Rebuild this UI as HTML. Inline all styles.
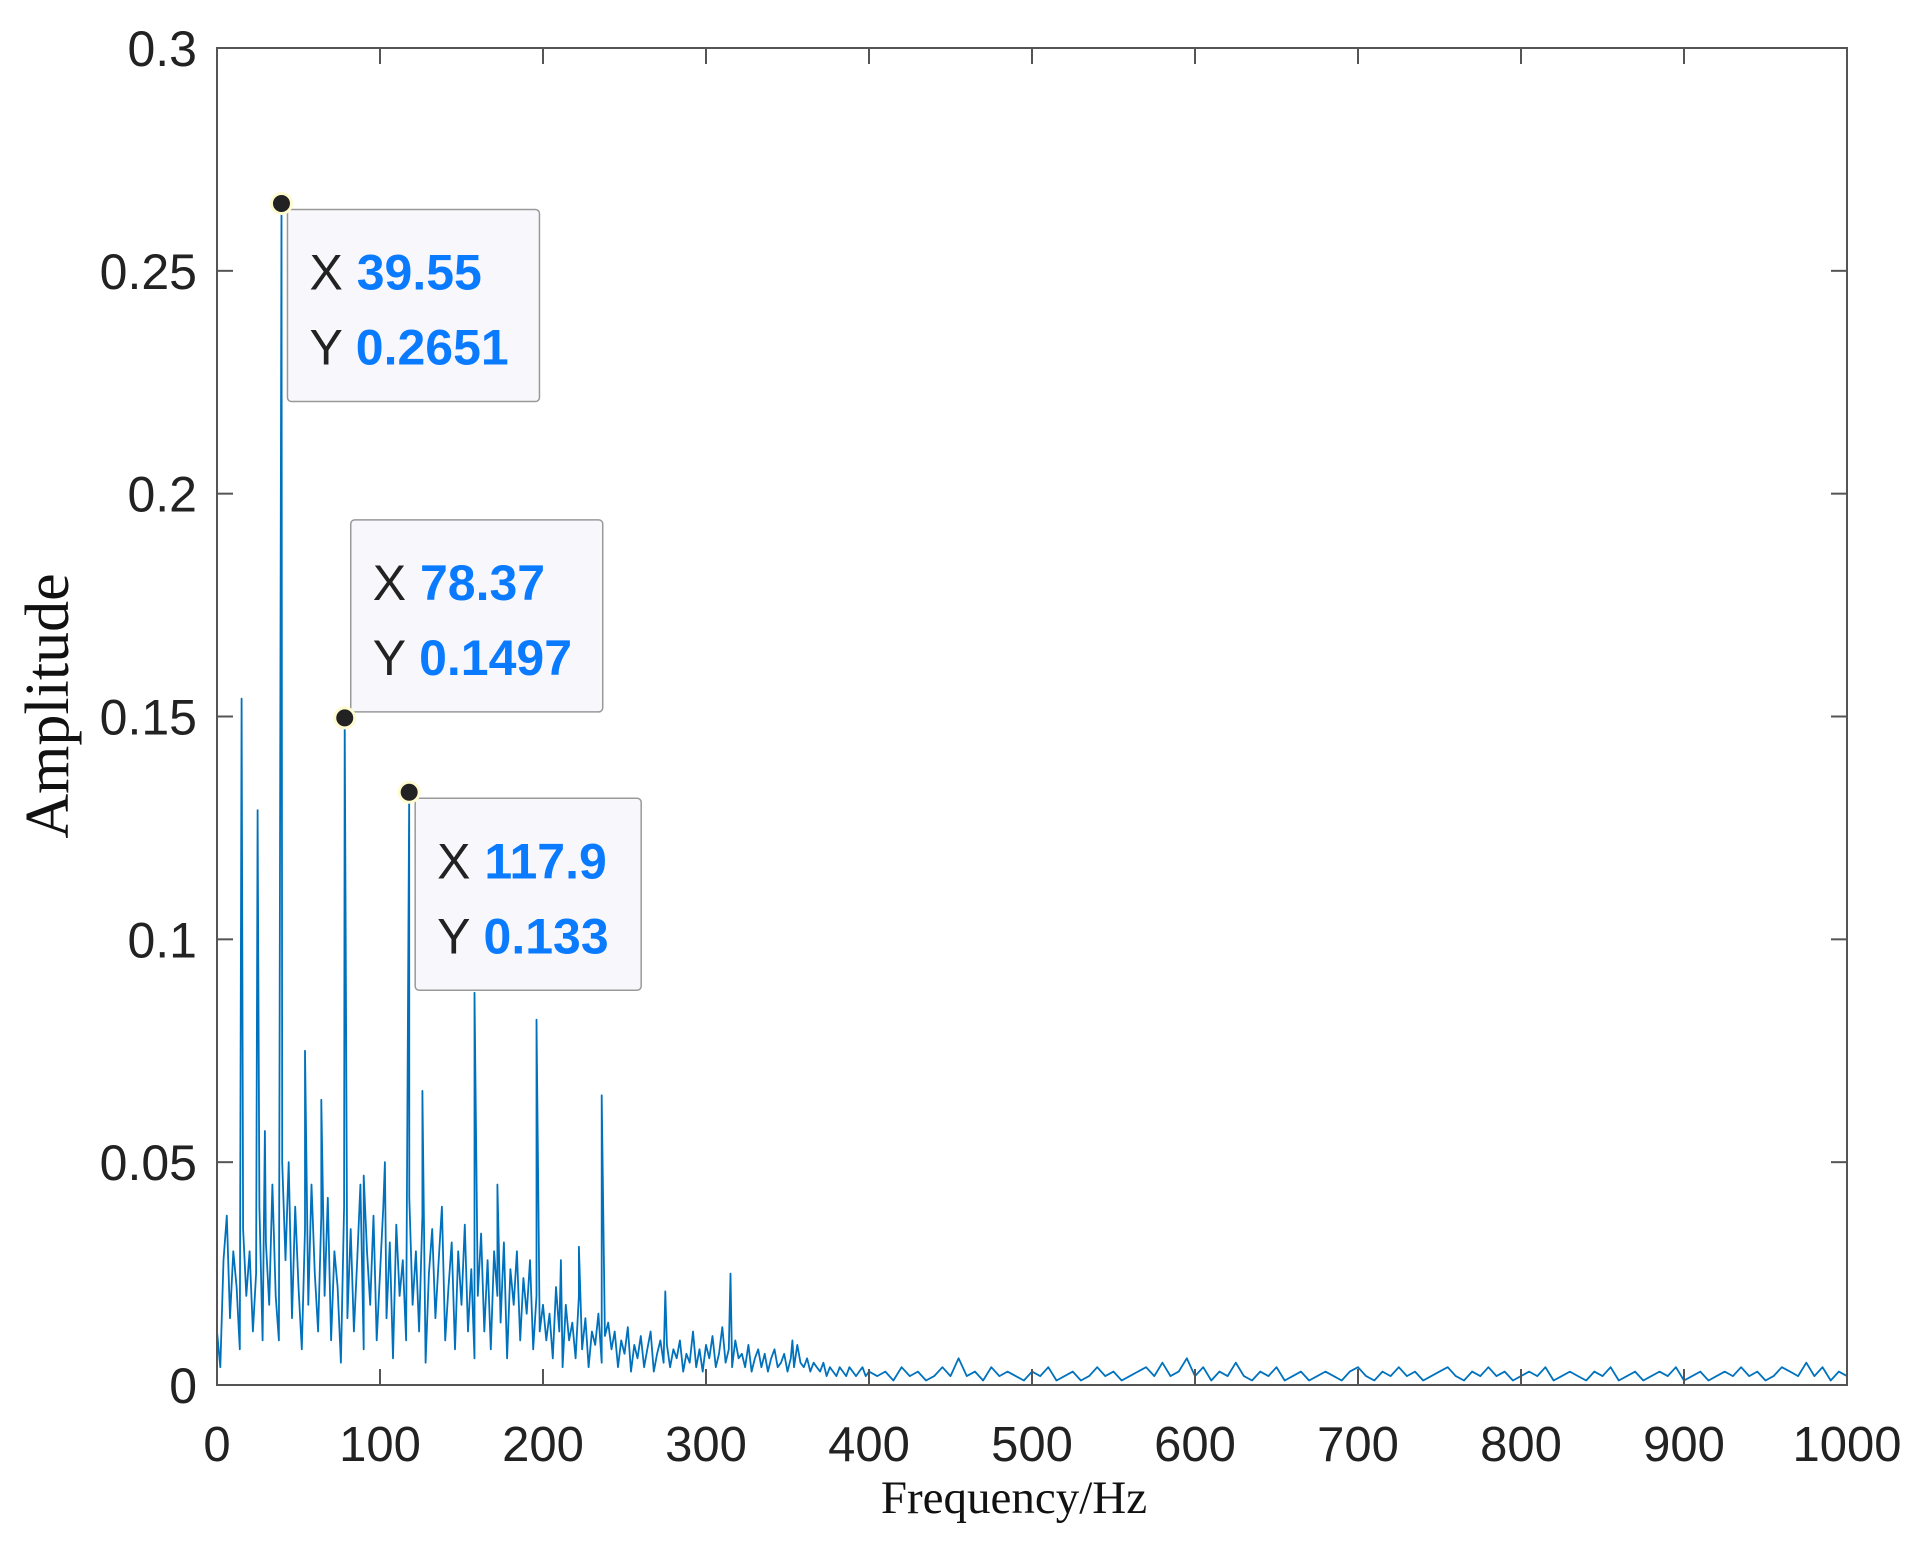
<!DOCTYPE html>
<html><head><meta charset="utf-8"><style>
html,body{margin:0;padding:0;background:#fff}
svg{display:block}
</style></head><body>
<svg id="chart" width="1929" height="1542" viewBox="0 0 1929 1542" xmlns="http://www.w3.org/2000/svg">
<rect x="0" y="0" width="1929" height="1542" fill="#fff"/>
<g id="series"></g>
<g id="axes"></g>
<g id="tips"></g>
<text x="1014" y="1513" font-family="Liberation Serif, serif" font-size="47" text-anchor="middle" fill="#111">Frequency/Hz</text>
<text transform="translate(68,706) rotate(-90)" font-family="Liberation Serif, serif" font-size="62" text-anchor="middle" fill="#111">Amplitude</text>
</svg>
<script>
const xTicks=[0,100,200,300,400,500,600,700,800,900,1000];
const yTicks=[0,0.05,0.1,0.15,0.2,0.25,0.3];
const yTickLabels=["0","0.05","0.1","0.15","0.2","0.25","0.3"];
const lowStep=2;
const lowAmps=[0.012,0.004,0.028,0.038,0.015,0.030,0.022,0.008,0.035,0.020,0.030,0.012,0.025,0.040,0.010,0.032,0.018,0.045,0.020,0.010,0.050,
0.028,0.050,0.015,0.040,0.022,0.008,0.035,0.018,0.045,0.025,0.012,0.038,0.020,0.042,0.010,0.030,0.022,0.005,0.040,0.015,
0.035,0.012,0.028,0.045,0.008,0.030,0.018,0.038,0.010,0.025,0.040,0.015,0.032,0.006,0.036,0.020,0.028,0.010,0.042,0.018,
0.030,0.012,0.038,0.005,0.025,0.035,0.015,0.028,0.040,0.010,0.022,0.032,0.008,0.030,0.018,0.036,0.012,0.026,0.006,0.020,
0.034,0.012,0.028,0.008,0.030,0.020,0.014,0.032,0.006,0.026,0.018,0.030,0.010,0.024,0.016,0.028,0.008,0.020,0.012,0.018,
0.010,0.016,0.006,0.022,0.012,0.004,0.018,0.010,0.014,0.006,0.020,0.008,0.015,0.004,0.012,0.009,0.016,0.005,0.011,0.014,
0.008,0.012,0.004,0.010,0.007,0.013,0.003,0.009,0.006,0.011,0.004,0.008,0.012,0.003,0.007,0.010,0.005,0.009,0.004,0.008,
0.006,0.010,0.003,0.007,0.005,0.012,0.004,0.008,0.003,0.009,0.006,0.011,0.004,0.007,0.013,0.005,0.008,0.004,0.010,0.006,
0.007,0.004,0.009,0.003,0.006,0.008,0.004,0.007,0.003,0.006,0.008,0.004,0.005,0.007,0.003,0.006,0.004,0.009,0.005,0.004,
0.006,0.003,0.005,0.004,0.003,0.005,0.002,0.004,0.003,0.002,0.004,0.003,0.002,0.004,0.003,0.002,0.003,0.004,0.002,0.003];
const highStart=405, highStep=5;
const highAmps=[0.002,0.003,0.001,0.004,0.002,0.003,0.001,0.002,0.004,0.002,0.006,0.002,0.003,0.001,0.004,0.002,0.003,0.002,0.001,0.003,
0.002,0.004,0.001,0.002,0.003,0.001,0.002,0.004,0.002,0.003,0.001,0.002,0.003,0.004,0.002,0.005,0.002,0.003,0.006,0.002,
0.004,0.001,0.003,0.002,0.005,0.002,0.001,0.003,0.002,0.004,0.001,0.002,0.003,0.001,0.002,0.003,0.002,0.001,0.003,0.004,
0.002,0.001,0.003,0.002,0.004,0.002,0.003,0.001,0.002,0.003,0.004,0.002,0.001,0.003,0.002,0.004,0.002,0.003,0.001,0.002,
0.003,0.002,0.004,0.001,0.002,0.003,0.002,0.001,0.003,0.002,0.004,0.001,0.002,0.003,0.001,0.002,0.003,0.002,0.004,0.001,
0.002,0.003,0.001,0.002,0.003,0.002,0.004,0.002,0.003,0.001,0.002,0.004,0.003,0.002,0.005,0.002,0.004,0.001,0.003,0.002];
const peakFreqs=[15.1,24.9,29.4,39.55,54,64,78.37,90,103,117.9,126,158,172,196,211,222,236,275,315,353];
const peakAmps=[0.154,0.129,0.057,0.2651,0.075,0.064,0.1497,0.047,0.050,0.133,0.066,0.088,0.045,0.082,0.028,0.031,0.065,0.021,0.025,0.010];
const tipFreqs=[39.55,78.37,117.9];
const tipAmps=[0.2651,0.1497,0.133];
const tipXLabels=["39.55","78.37","117.9"];
const tipYLabels=["0.2651","0.1497","0.133"];

const L=217,R=1847,T=48,B=1385;
const X=f=>L+(f/1000)*(R-L);
const Y=a=>B-(a/0.3)*(B-T);
const NS="http://www.w3.org/2000/svg";
function mk(tag,attrs,parent){const e=document.createElementNS(NS,tag);for(const k in attrs)e.setAttribute(k,attrs[k]);parent.appendChild(e);return e;}

let pts=[];
lowAmps.forEach((a,i)=>pts.push([i*lowStep,a]));
highAmps.forEach((a,i)=>pts.push([highStart+i*highStep,a]));
peakFreqs.forEach((f,i)=>pts.push([f,peakAmps[i]]));
pts.sort((p,q)=>p[0]-q[0]);
const series=document.getElementById('series');
const d=pts.map((p,i)=>(i?'L':'M')+X(p[0]).toFixed(1)+' '+Y(p[1]).toFixed(1)).join(' ');
const line=mk('path',{d:d,fill:'none',stroke:'#0072BD','stroke-width':1.8,'stroke-linejoin':'round'},series);



const axes=document.getElementById('axes');
const box=mk('rect',{x:L,y:T,width:R-L,height:B-T,fill:'none',stroke:'#555','stroke-width':2},axes);


xTicks.forEach(t=>{
  const x=X(t);
  mk('line',{x1:x,y1:B,x2:x,y2:B-16,stroke:'#555','stroke-width':2},axes);
  mk('line',{x1:x,y1:T,x2:x,y2:T+16,stroke:'#555','stroke-width':2},axes);
  const tx=mk('text',{x:x,y:1461,'font-family':'Liberation Sans, sans-serif','font-size':49,'text-anchor':'middle',fill:'#222'},axes);
  tx.textContent=String(t);
  
  
});
yTicks.forEach((t,i)=>{
  const y=Y(t);
  mk('line',{x1:L,y1:y,x2:L+16,y2:y,stroke:'#555','stroke-width':2},axes);
  mk('line',{x1:R,y1:y,x2:R-16,y2:y,stroke:'#555','stroke-width':2},axes);
  const tx=mk('text',{x:197,y:y+18,'font-family':'Liberation Sans, sans-serif','font-size':50,'text-anchor':'end',fill:'#222'},axes);
  tx.textContent=yTickLabels[i];
  
  
});

const tips=document.getElementById('tips');
const boxW=[252,252,226];
const boxAbove=[false,true,false];
tipFreqs.forEach((f,i)=>{
  const px=X(f),py=Y(tipAmps[i]);
  const g=mk('g',{},tips);
  
  
  const bw=boxW[i],bh=192;
  const bx=px+6,by=boxAbove[i]?py-6-bh:py+6;
  mk('rect',{x:bx,y:by,width:bw,height:bh,rx:4,fill:'#f8f8fc',stroke:'#999','stroke-width':1.5},g);
  mk('circle',{cx:px,cy:py,r:10,fill:'#222',stroke:'#fffbd0','stroke-width':3},g);
  const t1=mk('text',{x:bx+22,y:by+80,'font-family':'Liberation Sans, sans-serif','font-size':50,fill:'#222'},g);
  t1.innerHTML='X <tspan fill="#0A7BFF" font-weight="bold">'+tipXLabels[i]+'</tspan>';
  const t2=mk('text',{x:bx+22,y:by+155,'font-family':'Liberation Sans, sans-serif','font-size':50,fill:'#222'},g);
  t2.innerHTML='Y <tspan fill="#0A7BFF" font-weight="bold">'+tipYLabels[i]+'</tspan>';
});
</script>
</body></html>
